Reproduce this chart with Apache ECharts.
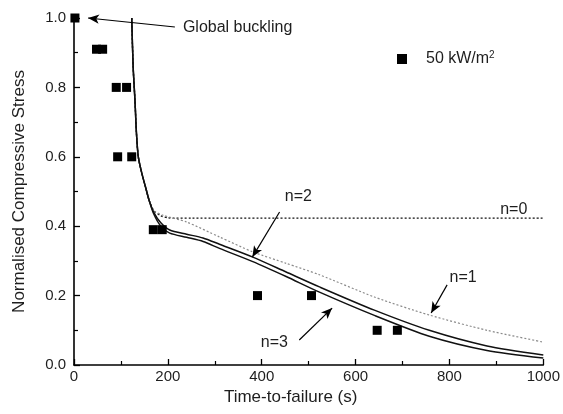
<!DOCTYPE html>
<html><head><meta charset="utf-8">
<script src="https://cdn.jsdelivr.net/npm/echarts@6/dist/echarts.min.js"></script>
<style>html,body{margin:0;padding:0;background:#fff}#c{width:563px;height:414px}</style>
</head><body><div id="c"></div>
<script>
// Experimental points (50 kW/m2)
const expPoints = [[2,1.0],[48,0.91],[61,0.91],[90,0.8],[112,0.8],[93,0.6],[123,0.6],[169,0.39],[188,0.39],[391,0.2],[506,0.2],[646,0.1],[689,0.1]];
// shared steep part of model curves
const steep = [[123,1.0],[126,0.86],[130,0.76],[133,0.67],[137,0.60],[145,0.55],[153,0.51],[160,0.475]];
const curveN0 = [[170,0.445],[185,0.43],[200,0.424],[250,0.423],[1000,0.423]];
const curveN1 = [[170,0.445],[189,0.432],[240,0.412],[310,0.369],[381,0.326],[452,0.293],[523,0.26],[640,0.196],[757,0.144],[880,0.1],[1000,0.066]];
const curveN2 = [[170,0.44],[185,0.41],[204,0.389],[240,0.377],[275,0.366],[310,0.348],[381,0.311],[452,0.268],[523,0.225],[640,0.158],[757,0.10],[880,0.055],[1000,0.029]];
const curveN3 = [[170,0.435],[185,0.40],[204,0.38],[240,0.368],[275,0.356],[310,0.336],[381,0.298],[452,0.255],[523,0.21],[640,0.143],[757,0.083],[880,0.042],[1000,0.02]];
const xTicks = [0,200,400,600,800,1000];
const yTicks = [0.0,0.2,0.4,0.6,0.8,1.0];
const legendName = '50 kW/m2';
// annotation texts [label, x, y]
const labels = [['n=0',937,0.447],['n=1',829,0.251],['n=2',478,0.484],['n=3',427,0.066]];
const bucklingLabel = ['Global buckling',232,0.971];
// arrows [from, to]
const arrows = [[[215,0.974],[30,1.0]],[[438,0.441],[380,0.311]],[[795,0.231],[761,0.150]],[[480,0.072],[550,0.164]]];

const font = 'Liberation Sans, Arial, sans-serif';
const txt = '#1e1e1e';
const chart = echarts.init(document.getElementById('c'), null, {renderer:'canvas'});
function withSteep(c){ return steep.concat(c); }
const lineBase = {type:'line', showSymbol:false, symbol:'none', smooth:0.25, silent:true, z:3};
chart.setOption({
  animation:false,
  backgroundColor:'#fff',
  grid:{left:74, right:18, top:18, bottom:49, containLabel:false},
  legend:{
    data:[{name:legendName, icon:'rect'}],
    left:392, top:45, itemWidth:10, itemHeight:10, selectedMode:false,
    formatter: () => '{a|50 kW/m}{b|2}',
    textStyle:{padding:[0,0,0,14], rich:{
      a:{fontFamily:font, fontSize:16, color:txt},
      b:{fontFamily:font, fontSize:10, color:txt, verticalAlign:'top', padding:[0,0,8,0]}
    }}
  },
  xAxis:{
    type:'value', min:xTicks[0], max:xTicks[xTicks.length-1], interval:200,
    name:'Time-to-failure (s)', nameLocation:'middle', nameGap:21,
    nameTextStyle:{fontFamily:font, fontSize:17, color:txt, padding:[0,36,0,0]},
    axisLine:{show:true, onZero:false, lineStyle:{color:'#000', width:1.6}},
    axisTick:{show:true, inside:true, length:6, lineStyle:{color:'#000', width:1.3}},
    minorTick:{show:true, splitNumber:2, length:4, lineStyle:{color:'#000', width:1.2}},
    axisLabel:{fontFamily:font, fontSize:15, color:txt, margin:4, formatter:v=>String(v)},
    splitLine:{show:false}
  },
  yAxis:{
    type:'value', min:yTicks[0], max:yTicks[yTicks.length-1], interval:0.2,
    name:'Normalised Compressive Stress', nameLocation:'middle', nameGap:46, nameRotate:90,
    nameTextStyle:{fontFamily:font, fontSize:17, color:txt},
    axisLine:{show:true, onZero:false, lineStyle:{color:'#000', width:1.6}},
    axisTick:{show:true, inside:true, length:6, lineStyle:{color:'#000', width:1.3}},
    minorTick:{show:true, splitNumber:2, length:4, lineStyle:{color:'#000', width:1.2}},
    axisLabel:{fontFamily:font, fontSize:15, color:txt, margin:8, formatter:v=>v.toFixed(1)},
    splitLine:{show:false}
  },
  series:[
    Object.assign({}, lineBase, {name:'n=0', data:withSteep(curveN0), lineStyle:{color:'#111', width:1.3, type:[2,2]},
      markPoint:{silent:true, symbol:'circle', symbolSize:0,
        data: labels.map(l=>({coord:[l[1],l[2]], label:{show:true, position:'inside', formatter:l[0], fontFamily:font, fontSize:16, color:txt}}))
          .concat([{coord:[bucklingLabel[1],bucklingLabel[2]], label:{show:true, position:'right', distance:0, formatter:bucklingLabel[0], fontFamily:font, fontSize:16, color:txt}}])
      },
      markLine:{silent:true, symbol:['none','arrow'], symbolSize:[7,11], label:{show:false}, lineStyle:{color:'#000', width:1.2, type:'solid'},
        data: arrows.map(a=>[{coord:a[0]},{coord:a[1]}])
      }
    }),
    Object.assign({}, lineBase, {name:'n=1', data:withSteep(curveN1), lineStyle:{color:'#8a8a8a', width:1.2, type:[2,2]}}),
    Object.assign({}, lineBase, {name:'n=2', data:withSteep(curveN2), lineStyle:{color:'#111', width:1.5}}),
    Object.assign({}, lineBase, {name:'n=3', data:withSteep(curveN3), lineStyle:{color:'#111', width:1.5}}),
    {name:legendName, type:'scatter', data:expPoints, symbol:'rect', symbolSize:9, itemStyle:{color:'#000', opacity:1}, z:5, silent:true}
  ]
});
</script></body></html>
